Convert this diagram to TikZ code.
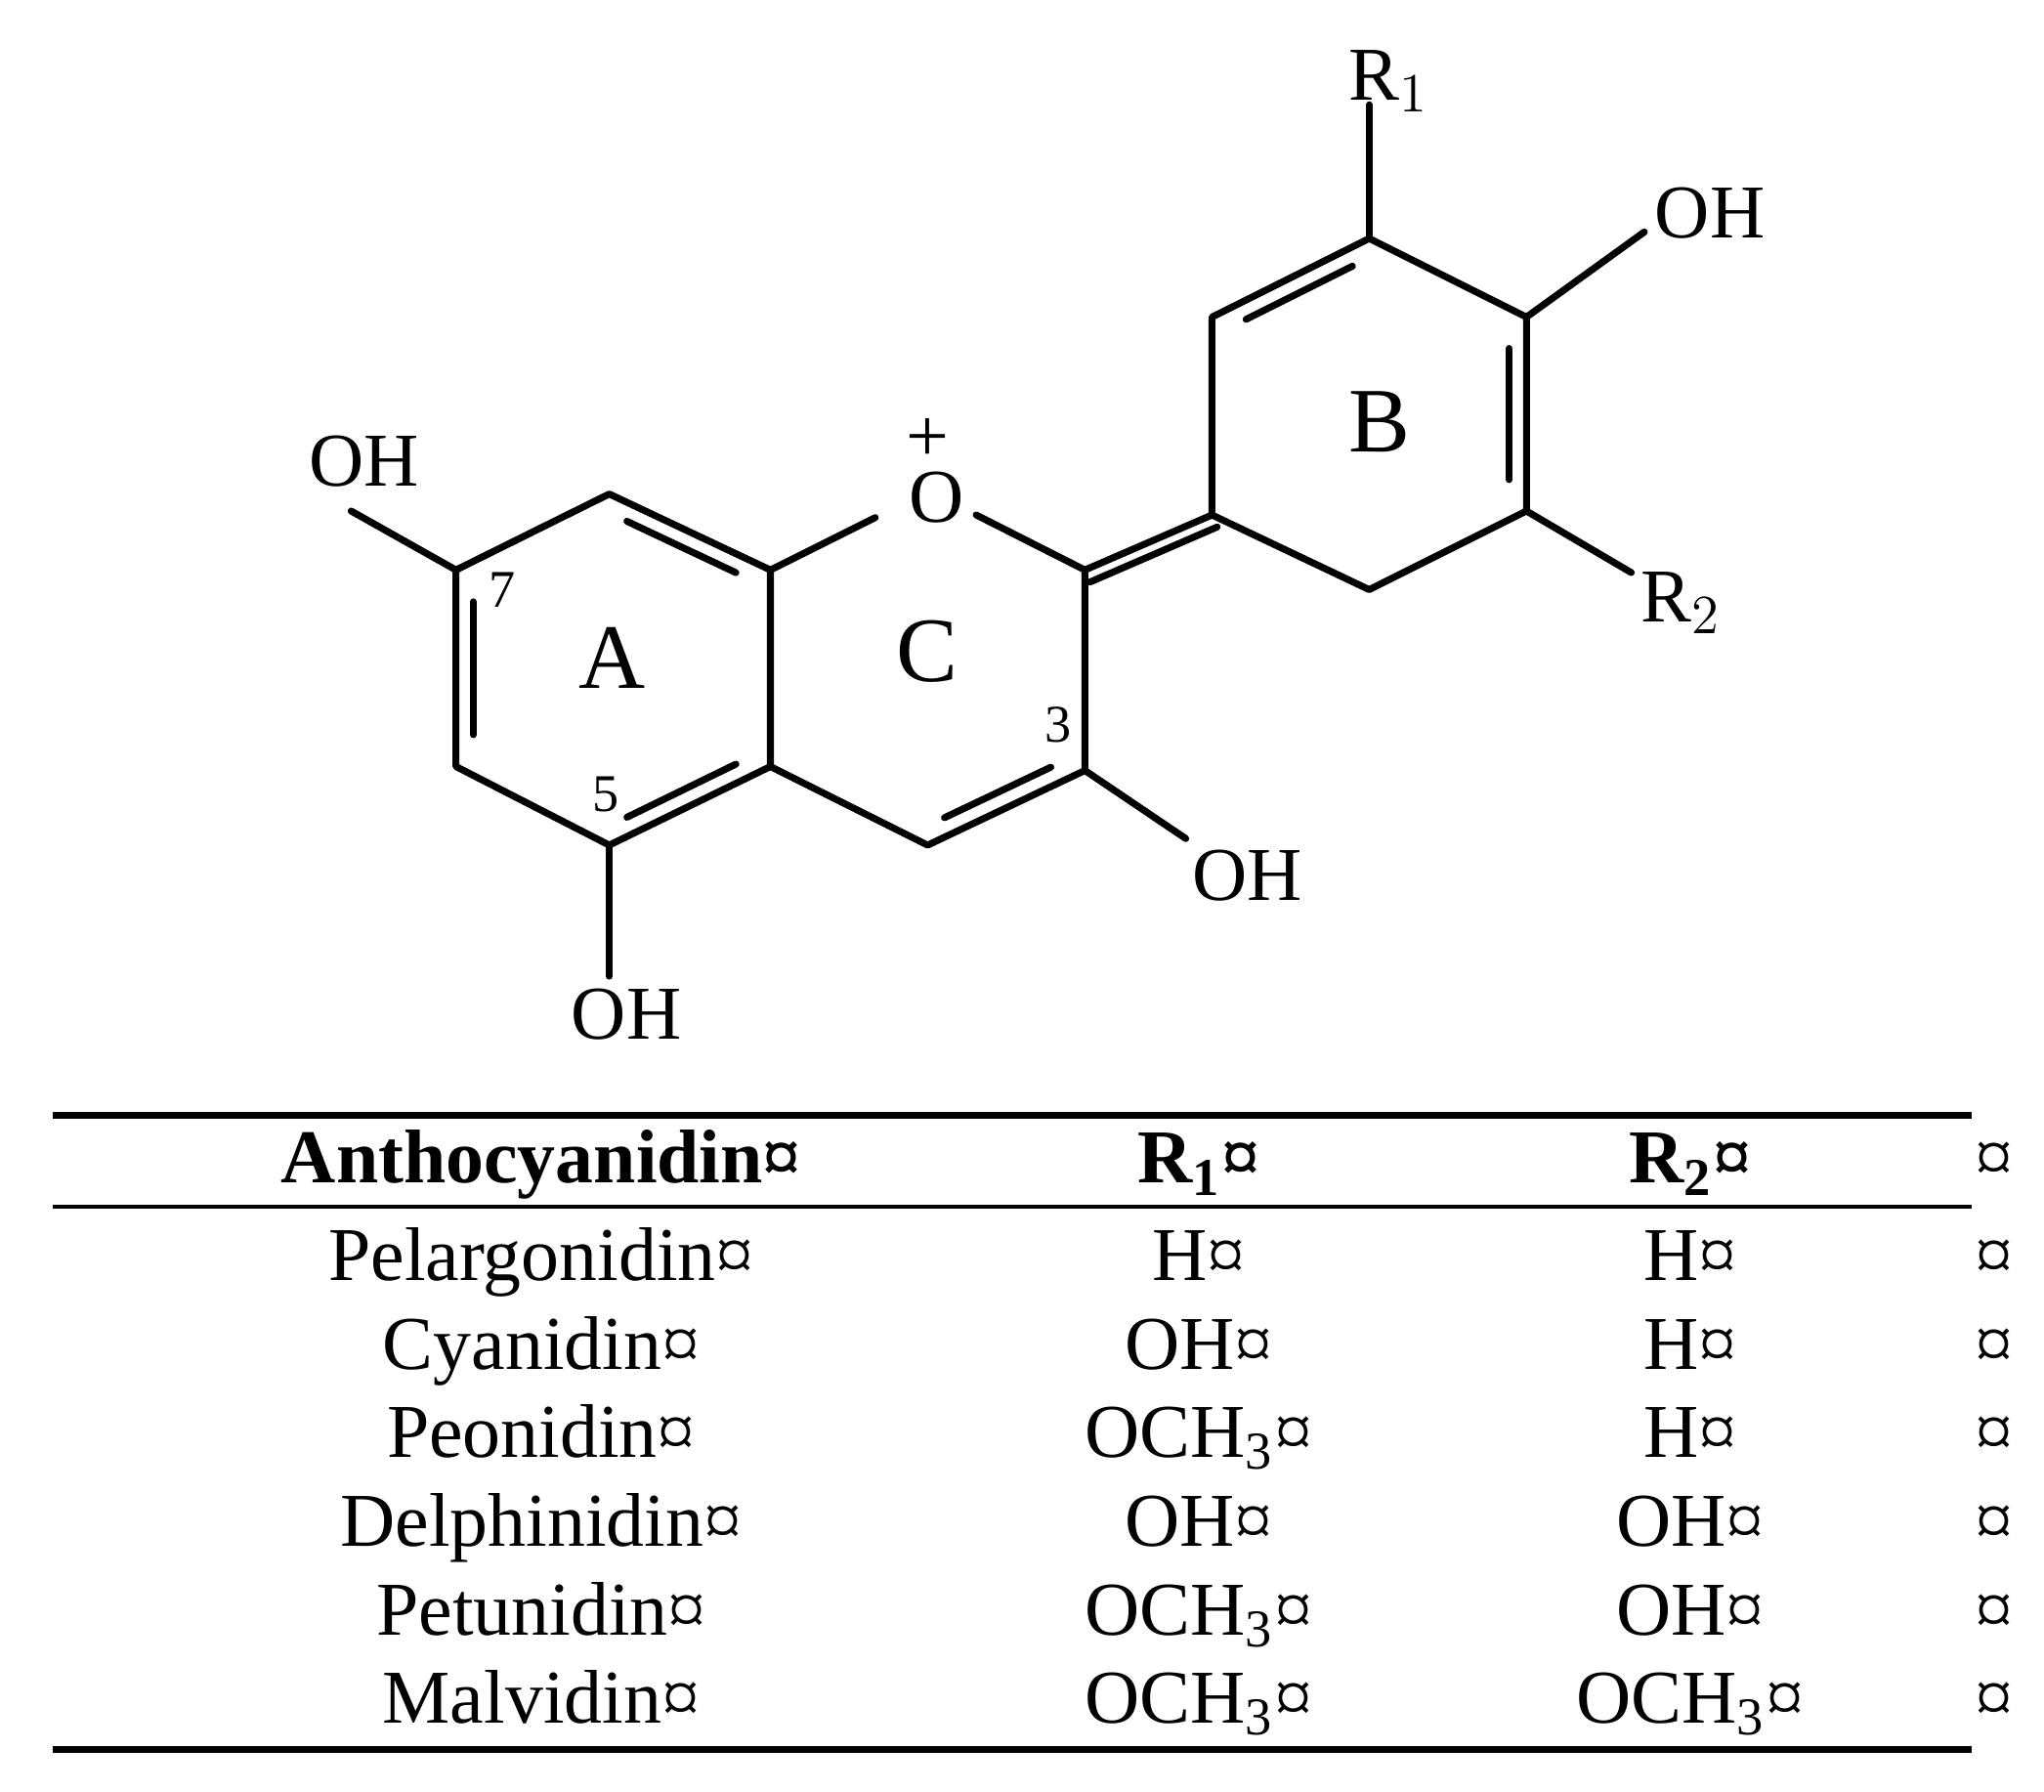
\documentclass[tikz,border=0pt]{standalone}
\usepackage{fontspec}
\setmainfont{Liberation Serif}
\usetikzlibrary{calc}
\begin{document}
\begin{tikzpicture}[x=0.01cm,y=-0.01cm,
  bond/.style={line width=1.5pt,line cap=round,line join=round},
  lab/.style={inner sep=0pt,font=\fontsize{16.5}{18}\selectfont},
  ring/.style={inner sep=0pt,font=\fontsize{20}{22}\selectfont},
  small/.style={inner sep=0pt,font=\fontsize{11.5}{13}\selectfont},
  cell/.style={inner sep=0pt,anchor=base,font=\fontsize{16.5}{18}\selectfont}]
\useasboundingbox (0,0) rectangle (1560,1367);
% atoms
\coordinate (a1) at (465,377); \coordinate (a8a) at (588,435);
\coordinate (a4a) at (588,585); \coordinate (a5) at (465,645);
\coordinate (a6) at (348,585); \coordinate (a7) at (348,435);
\coordinate (cA) at (468,510);
\coordinate (c2) at (828,435); \coordinate (c3) at (828,588);
\coordinate (c4) at (708,645); \coordinate (cC) at (708,510);
\coordinate (b1) at (925,393); \coordinate (b2) at (925,242);
\coordinate (b3) at (1045,182); \coordinate (b4) at (1165,242);
\coordinate (b5) at (1165,390); \coordinate (b6) at (1045,450);
\coordinate (cB) at (1045,316);
\coordinate (oA) at (668,395); \coordinate (oB) at (745,393);
\coordinate (oh7) at (268,390); \coordinate (oh5) at (465,745);
\coordinate (oh3) at (905,640); \coordinate (r1) at (1045,80);
\coordinate (oh4) at (1255,177); \coordinate (r2) at (1245,437);
% ring A
\draw[bond] (a1)--(a8a)--(a4a)--(a5)--(a6)--(a7)--cycle;
\foreach \p/\q/\c in {a7/a6/cA,a1/a8a/cA,a4a/a5/cA,b2/b3/cB,b4/b5/cB,c3/c4/cC}
  \draw[bond] ($($(\p)!0.12!(\q)$)!0.11!(\c)$) -- ($($(\q)!0.12!(\p)$)!0.11!(\c)$);
% ring C
\draw[bond] (a8a)--(oA);
\draw[bond] (oB)--(c2)--(c3)--(c4)--(a4a);
% exocyclic double bond
\draw[bond] (c2)--(b1);
\draw[bond] ($(c2)!0.1cm!-90:(b1)$)--($(b1)!0.1cm!90:(c2)$);
% ring B
\draw[bond] (b1)--(b2)--(b3)--(b4)--(b5)--(b6)--cycle;
% substituents
\draw[bond] (a7)--(oh7); \draw[bond] (a5)--(oh5); \draw[bond] (c3)--(oh3);
\draw[bond] (b3)--(r1); \draw[bond] (b4)--(oh4); \draw[bond] (b5)--(r2);
% labels
\node[lab] (tO) at (715,380) {O};
\node[lab] (tp) at (708,336) {+};
\node[lab] (t7) at (278,352) {OH};
\node[lab] (t5) at (478,774) {OH};
\node[lab] (t3) at (952,668) {OH};
\node[lab] (t4) at (1305,163) {OH};
\node[lab] (tr1) at (1060,62) {R$_1$};
\node[lab] (tr2) at (1283,460) {R$_2$};
\node[ring] (lA) at (467,502) {A};
\node[ring] (lC) at (708,497) {C};
\node[ring] (lB) at (1053,322) {B};
\node[small] (n7) at (383,450) {7};
\node[small] (n5) at (462,606) {5};
\node[small] (n3) at (808,553) {3};
% table
\draw[line width=1.5pt] (40,851)--(1505,851);
\draw[line width=0.7pt] (40,921)--(1505,921);
\draw[line width=1.5pt] (40,1335)--(1505,1335);
\node[cell] (h1) at (413,903) {\textbf{Anthocyanidin¤}};
\node[cell] (h2) at (915,903) {\textbf{R\textsubscript{1}¤}};
\node[cell] (h3) at (1290,903) {\textbf{R\textsubscript{2}¤}};
\node[cell] (h4) at (1522,903) {¤};
\foreach \n/\a/\b/\y in {Pelargonidin/H/H/977,Cyanidin/OH/H/1045,Peonidin/OCH\textsubscript{3}/H/1112,Delphinidin/OH/OH/1180,Petunidin/OCH\textsubscript{3}/OH/1248,Malvidin/OCH\textsubscript{3}/OCH\textsubscript{3}/1315}{
  \node[cell] at (413,\y) {\n¤};
  \node[cell] at (915,\y) {\a¤};
  \node[cell] at (1290,\y) {\b¤};
  \node[cell] at (1522,\y) {¤};
}
\end{tikzpicture}
\end{document}
